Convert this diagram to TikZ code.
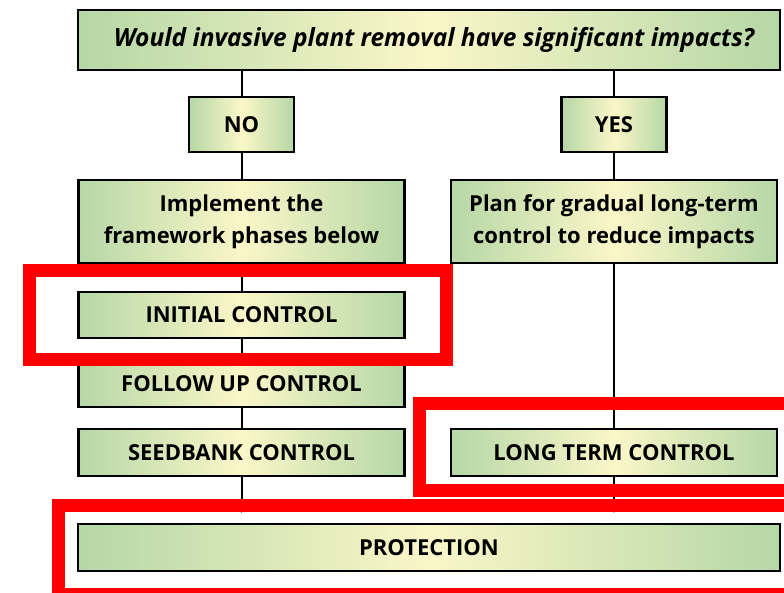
\documentclass[tikz,border=0pt]{standalone}
\usepackage{fontspec}
\setmainfont{Open Sans}
\newfontfamily\condfont[FakeStretch=0.98]{Open Sans}
\usetikzlibrary{arrows.meta, positioning, calc}
\definecolor{boxgreen}{RGB}{182,215,166}
\definecolor{boxcream}{RGB}{250,246,200}
\definecolor{hlred}{RGB}{255,0,0}
\tikzset{
  box/.style   = {draw=black, line width=2.2pt, left color=boxgreen, right color=boxgreen,
                  middle color=boxcream, inner sep=0pt, align=center,
                  font=\fontsize{22}{32}\selectfont\bfseries},
  link/.style  = {draw=black, line width=2pt},
  tiplink/.style = {link, -{Latex[length=3pt,width=4pt]}, shorten >=10pt},
  hl/.style    = {draw=hlred, line width=13pt},
}
\begin{document}
\begin{tikzpicture}[x=1pt, y=-1pt]
  \clip (0,0) rectangle (784,593);
  \fill[white] (0,0) rectangle (784,593);
  % question and answers
  \node[box, minimum width=702pt, minimum height=60pt,
        font=\condfont\fontsize{25}{30}\selectfont\bfseries\itshape] (q) at (429,40)
        {\hspace*{10pt}Would invasive plant removal have significant impacts?};
  \node[box, minimum width=105pt, minimum height=55pt] (no) at (241.5,124.5) {NO};
  \node[box, minimum width=105pt, minimum height=55pt] (yes) at (614,124.5) {YES};
  % two branches
  \node[box, minimum width=326pt, minimum height=83pt] (impl) at (241.5,221.5)
        {Implement the\\framework phases below};
  \node[box, minimum width=326pt, minimum height=83pt] (plan) at (614,221.5)
        {Plan for gradual long-term\\control to reduce impacts};
  % framework phases
  \node[box, minimum width=326pt, minimum height=46pt] (init) at (241.5,315) {INITIAL CONTROL};
  \node[box, minimum width=326pt, minimum height=47pt] (follow) at (241.5,383.5) {FOLLOW UP CONTROL};
  \node[box, minimum width=326pt, minimum height=47pt] (seed) at (241.5,452.5) {SEEDBANK CONTROL};
  \node[box, minimum width=326pt, minimum height=47pt] (long) at (614,452.5) {LONG TERM CONTROL};
  \node[box, minimum width=702pt, minimum height=47pt] (prot) at (429,547.5) {PROTECTION};
  % connectors
  \draw[link] (q.south -| no) -- (no);
  \draw[link] (q.south -| yes) -- (yes);
  \draw[link] (no) -- (impl);
  \draw[link] (yes) -- (plan);
  \draw[link] (impl) -- (init);
  \draw[link] (init) -- (follow);
  \draw[link] (follow) -- (seed);
  \draw[link] (plan) -- (long);
  \draw[tiplink] (seed.south) -- (seed.south |- prot.north);
  \draw[tiplink] (long.south) -- (long.south |- prot.north);
  % highlight frames
  \draw[hl] (29,271) rectangle (446,359.5);
  \draw[hl] (419.5,403) rectangle (800,490.5);
  \draw[hl] (58.5,505) rectangle (800,594);
\end{tikzpicture}
\end{document}
